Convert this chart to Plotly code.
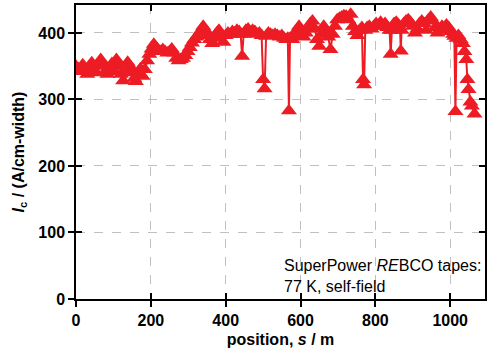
import plotly.graph_objects as go

# position along tape (m)
position_m = [
    0, 6, 12, 18, 24, 30, 36, 42, 48, 54, 60, 66, 72, 78, 84, 90, 96, 102, 108, 114,
    120, 126, 132, 138, 144, 150, 156, 160, 166, 172, 178, 184, 190, 196, 202, 208, 214, 220, 226, 232,
    238, 244, 250, 256, 262, 268, 274, 280, 286, 292, 298, 304, 310, 316, 322, 328, 334, 340, 346, 352,
    358, 364, 370, 376, 382, 388, 394, 400, 406, 412, 418, 424, 430, 436, 440, 444, 448, 454, 460, 466,
    472, 478, 484, 490, 496, 500, 504, 508, 514, 520, 526, 532, 538, 544, 550, 556, 562, 566, 569, 572,
    578, 584, 590, 596, 602, 608, 614, 620, 626, 632, 638, 644, 650, 656, 662, 668, 674, 680, 686, 692,
    698, 704, 710, 716, 722, 728, 734, 740, 746, 752, 758, 764, 767, 770, 773, 778, 784, 790, 796, 802,
    808, 814, 820, 826, 832, 838, 841, 844, 850, 856, 862, 866, 868, 870, 876, 882, 888, 894, 900, 906,
    912, 918, 924, 930, 936, 942, 948, 954, 960, 966, 972, 978, 984, 990, 996, 1002, 1008, 1011, 1014, 1017,
    1022, 1028, 1034, 1038, 1043, 1046, 1049, 1054, 1058, 1065,
]
# critical current Ic (A/cm-width)
ic_values = [
    350, 346, 342, 352, 345, 338, 350, 355, 344, 340, 350, 360, 352, 342, 338, 346, 354, 342, 360, 350,
    338, 328, 344, 356, 350, 340, 332, 327, 340, 346, 335, 345, 358, 368, 376, 383, 378, 374, 372, 375,
    372, 370, 372, 376, 370, 362, 358, 360, 362, 366, 372, 378, 385, 390, 394, 398, 404, 410, 404, 396,
    390, 384, 392, 400, 404, 396, 386, 396, 400, 398, 402, 400, 404, 402, 398, 365, 398, 404, 406, 400,
    404, 402, 398, 400, 396, 330, 316, 395, 400, 398, 396, 398, 396, 394, 396, 392, 390, 392, 283, 392,
    390, 396, 404, 410, 402, 394, 400, 408, 414, 418, 406, 390, 380, 398, 410, 404, 394, 375, 398, 410,
    420, 422, 424, 426, 425, 420, 428, 410, 402, 396, 404, 408, 330, 322, 404, 408, 410, 406, 410, 414,
    410, 416, 412, 414, 408, 404, 368, 404, 414, 416, 412, 405, 373, 404, 414, 418, 420, 416, 410, 400,
    406, 414, 418, 414, 404, 420, 424, 418, 408, 400, 404, 410, 408, 412, 408, 402, 398, 395, 282, 392,
    396, 390, 384, 372, 360, 330, 315, 296, 290, 278,
]

x_ticks = [0, 200, 400, 600, 800, 1000]
y_ticks = [0, 100, 200, 300, 400]

RED = "#ED1C24"
FONT = "Liberation Sans, Arial, sans-serif"

fig = go.Figure()
fig.add_trace(go.Scatter(
    x=position_m, y=ic_values, mode="lines+markers",
    line=dict(color=RED, width=2),
    marker=dict(symbol="triangle-up", size=14, color=RED),
    showlegend=False,
))
# dummy trace for overlay axes (inside ticks)
fig.add_trace(go.Scatter(x=[None], y=[None], xaxis="x2", yaxis="y2", showlegend=False))

xr = [0, 1093]
yr = [0, 442]

fig.update_layout(
    width=487, height=352,
    margin=dict(l=76, r=0, t=5, b=53),
    paper_bgcolor="white", plot_bgcolor="white",
    font=dict(family=FONT, size=16, color="black"),
    xaxis=dict(
        range=xr, tickvals=x_ticks, ticks="outside", ticklen=6, tickwidth=1.5, tickcolor="black",
        showline=True, linecolor="black", linewidth=1.5, mirror=True,
        showgrid=True, gridcolor="#c0c0c0", griddash="dash", gridwidth=1, zeroline=False,
        tickfont=dict(family=FONT, size=16, weight="bold"),
        title=dict(text="<b>position, <i>s</i> / m</b>", font=dict(family=FONT, size=16), standoff=6),
    ),
    yaxis=dict(
        range=yr, tickvals=y_ticks, ticks="outside", ticklen=6, tickwidth=1.5, tickcolor="black",
        showline=True, linecolor="black", linewidth=1.5, mirror=True,
        showgrid=True, gridcolor="#c0c0c0", griddash="dash", gridwidth=1, zeroline=False,
        tickfont=dict(family=FONT, size=16, weight="bold"),
        title=dict(text="<b><i>I</i><sub>c</sub> / (A/cm-width)</b>", font=dict(family=FONT, size=16), standoff=10),
    ),
    xaxis2=dict(
        range=xr, tickvals=x_ticks, ticks="inside", ticklen=6, tickwidth=1.5, tickcolor="black",
        overlaying="x", showticklabels=False, showgrid=False, zeroline=False, showline=False, mirror="ticks",
    ),
    yaxis2=dict(
        range=yr, tickvals=y_ticks, ticks="inside", ticklen=6, tickwidth=1.5, tickcolor="black",
        overlaying="y", showticklabels=False, showgrid=False, zeroline=False, showline=False, mirror="ticks",
    ),
    annotations=[dict(
        x=550, y=35, xref="x", yref="y", xanchor="left", yanchor="middle", align="left",
        showarrow=False,
        text="SuperPower <i>RE</i>BCO tapes:<br>77 K, self-field",
        font=dict(family=FONT, size=16, color="black"),
    )],
)

fig.write_html("out.html")
